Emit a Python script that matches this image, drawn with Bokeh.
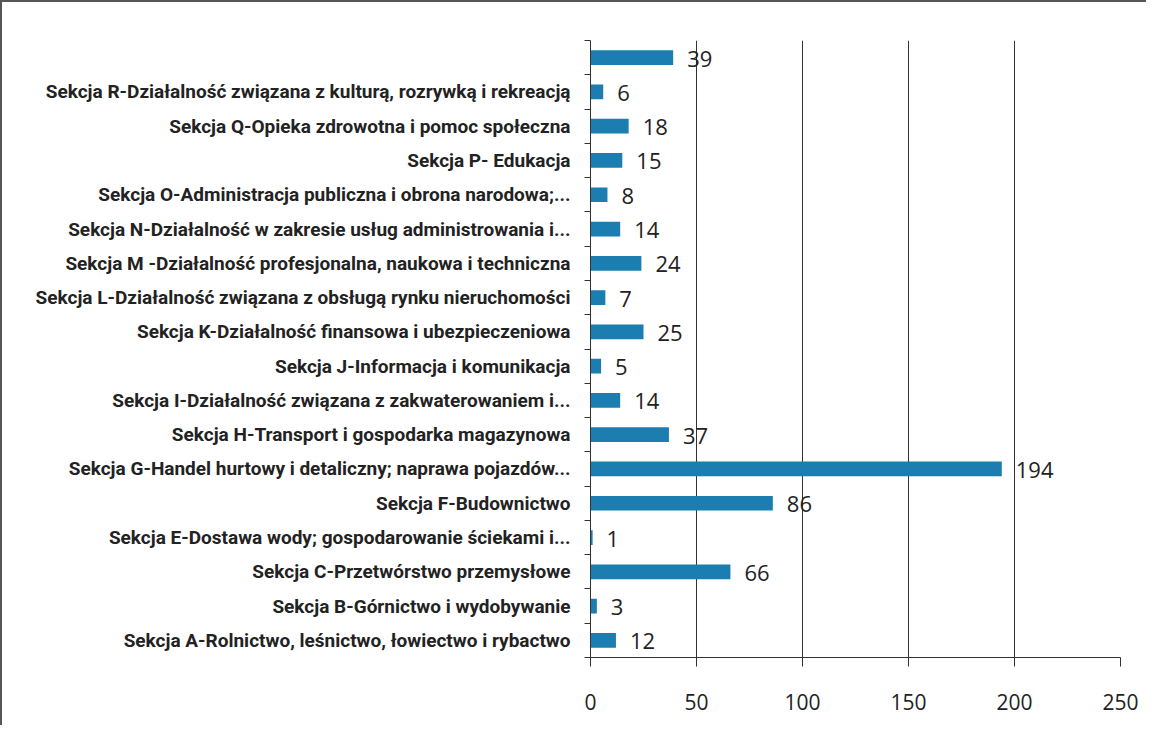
from bokeh.plotting import figure
from bokeh.models import ColumnDataSource, FixedTicker, Range1d, LabelSet
from bokeh.core.properties import value
from bokeh.embed import file_html
from bokeh.resources import INLINE

categories = [
    "Sekcja A-Rolnictwo, leśnictwo, łowiectwo i rybactwo",
    "Sekcja B-Górnictwo i wydobywanie",
    "Sekcja C-Przetwórstwo przemysłowe",
    "Sekcja E-Dostawa wody; gospodarowanie ściekami i...",
    "Sekcja F-Budownictwo",
    "Sekcja G-Handel hurtowy i detaliczny; naprawa pojazdów...",
    "Sekcja H-Transport i gospodarka magazynowa",
    "Sekcja I-Działalność związana z zakwaterowaniem i...",
    "Sekcja J-Informacja i komunikacja",
    "Sekcja K-Działalność finansowa i ubezpieczeniowa",
    "Sekcja L-Działalność związana z obsługą rynku nieruchomości",
    "Sekcja M -Działalność profesjonalna, naukowa i techniczna",
    "Sekcja N-Działalność w zakresie usług administrowania i...",
    "Sekcja O-Administracja publiczna i obrona narodowa;...",
    "Sekcja P- Edukacja",
    "Sekcja Q-Opieka zdrowotna i pomoc społeczna",
    "Sekcja R-Działalność związana z kulturą, rozrywką i rekreacją",
    "",
]
values = [12, 3, 66, 1, 86, 194, 37, 14, 5, 25, 7, 24, 14, 8, 15, 18, 6, 39]
x_ticks = [0, 50, 100, 150, 200, 250]

ypos = list(range(1, len(categories) + 1))
source = ColumnDataSource(dict(y=ypos, v=values, cat=categories,
                               lbl=[str(v) for v in values]))

W, H = 1146, 725
p = figure(width=W, height=H, output_backend="svg", toolbar_location=None,
           x_range=Range1d(0, 250), y_range=Range1d(0.5, len(categories) + 0.5),
           min_border_left=588, min_border_right=28, min_border_top=38,
           min_border_bottom=70)
p.styles = {"border-left": "2px solid #555", "border-top": "2px solid #555"}
p.background_fill_color = "white"
p.border_fill_color = "white"
p.outline_line_color = None

p.hbar(y="y", right="v", left=0, height=0.43, source=source,
       fill_color="#1b7db0", line_color=None)

labels = LabelSet(x="v", y="y", text="lbl", source=source, x_offset=14,
                  y_offset=-1, text_baseline="middle", text_align="left",
                  text_font=value("Open Sans"), text_font_size="22px",
                  text_color="#222222")
p.add_layout(labels)

# x axis
p.xaxis.ticker = FixedTicker(ticks=x_ticks)
p.xaxis.axis_line_color = "#333333"
p.xaxis.major_tick_line_color = "#333333"
p.xaxis.major_tick_out = 9
p.xaxis.major_tick_in = 0
p.xaxis.minor_tick_line_color = None
p.xaxis.major_label_text_font = "Open Sans"
p.xaxis.major_label_text_font_size = "21px"
p.xaxis.major_label_text_color = "#222222"
p.xaxis.major_label_standoff = 27

# y axis
p.yaxis.ticker = FixedTicker(ticks=ypos,
                             minor_ticks=[y - 0.5 for y in ypos] + [len(ypos) + 0.5])
p.yaxis.major_label_overrides = {y: c for y, c in zip(ypos, categories)}
p.yaxis.axis_line_color = "#333333"
p.yaxis.major_tick_line_color = None
p.yaxis.minor_tick_line_color = "#333333"
p.yaxis.minor_tick_out = 6
p.yaxis.minor_tick_in = 0
p.yaxis.major_label_text_font = "Roboto"
p.yaxis.major_label_text_font_style = "bold"
p.yaxis.major_label_text_font_size = "19px"
p.yaxis.major_label_text_color = "#222222"
p.yaxis.major_label_standoff = 14

p.xgrid.ticker = FixedTicker(ticks=x_ticks)
p.xgrid.grid_line_color = "#333333"
p.xgrid.grid_line_width = 1
p.ygrid.grid_line_color = None

open("out.html", "w").write(file_html(p, INLINE))
